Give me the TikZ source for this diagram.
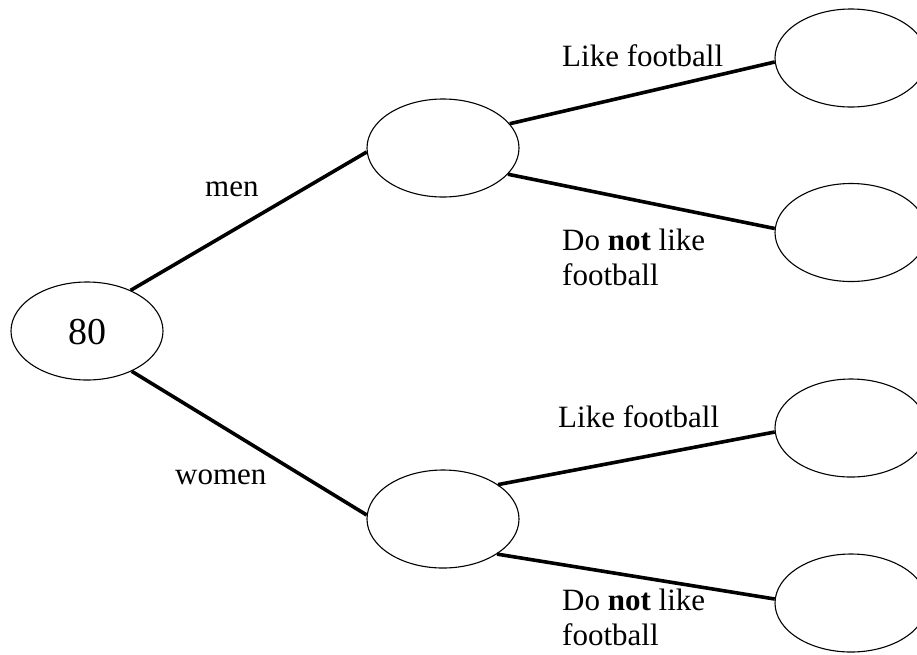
\documentclass[tikz,border=0pt]{standalone}
\usepackage{fontspec}
\setmainfont{Liberation Serif}
\usetikzlibrary{shapes.geometric}
\begin{document}
\begin{tikzpicture}[x=1pt,y=-1pt,
  bubble/.style={draw=black,line width=1.1pt,ellipse,minimum width=152pt,minimum height=98pt,inner sep=0pt},
  branch/.style={line width=3.6pt,line cap=butt},
  lbl/.style={anchor=base west,inner sep=0pt,font=\fontsize{31}{35}\selectfont,align=left}]
\clip (0,0) rectangle (917,654);
\useasboundingbox (0,0) rectangle (917,654);
\fill[white] (0,0) rectangle (917,654);
% nodes
\node[bubble] (root) at (87,331) {};
\node[anchor=base,inner sep=0pt,font=\fontsize{38}{40}\selectfont] (rootlbl) at (87,344) {80};
\node[bubble] (men) at (443,148) {};
\node[bubble] (women) at (443,519) {};
\node[bubble] (r1) at (851,58) {};
\node[bubble] (r2) at (851,232.5) {};
\node[bubble] (r3) at (851,428) {};
\node[bubble] (r4) at (851,603) {};
% connectors
\draw[branch] (root.43) -- (men.183);
\draw[branch] (root.-42) -- (women.177);
\draw[branch] (men.20.6) -- (r1.183);
\draw[branch] (men.-22) -- (r2.177);
\draw[branch] (women.32) -- (r3.183);
\draw[branch] (women.-33) -- (r4.177);
% labels (multi-line nodes: base = last line)
\node[lbl] (lmen) at (205,196) {men};
\node[lbl] (lwomen) at (175,484) {women};
\node[lbl] (l1) at (562,66) {Like football};
\node[lbl] (l2) at (562,285) {Do \textbf{not} like\\football};
\node[lbl] (l3) at (558,427) {Like football};
\node[lbl] (l4) at (562,645) {Do \textbf{not} like\\football};
\end{tikzpicture}
\end{document}
